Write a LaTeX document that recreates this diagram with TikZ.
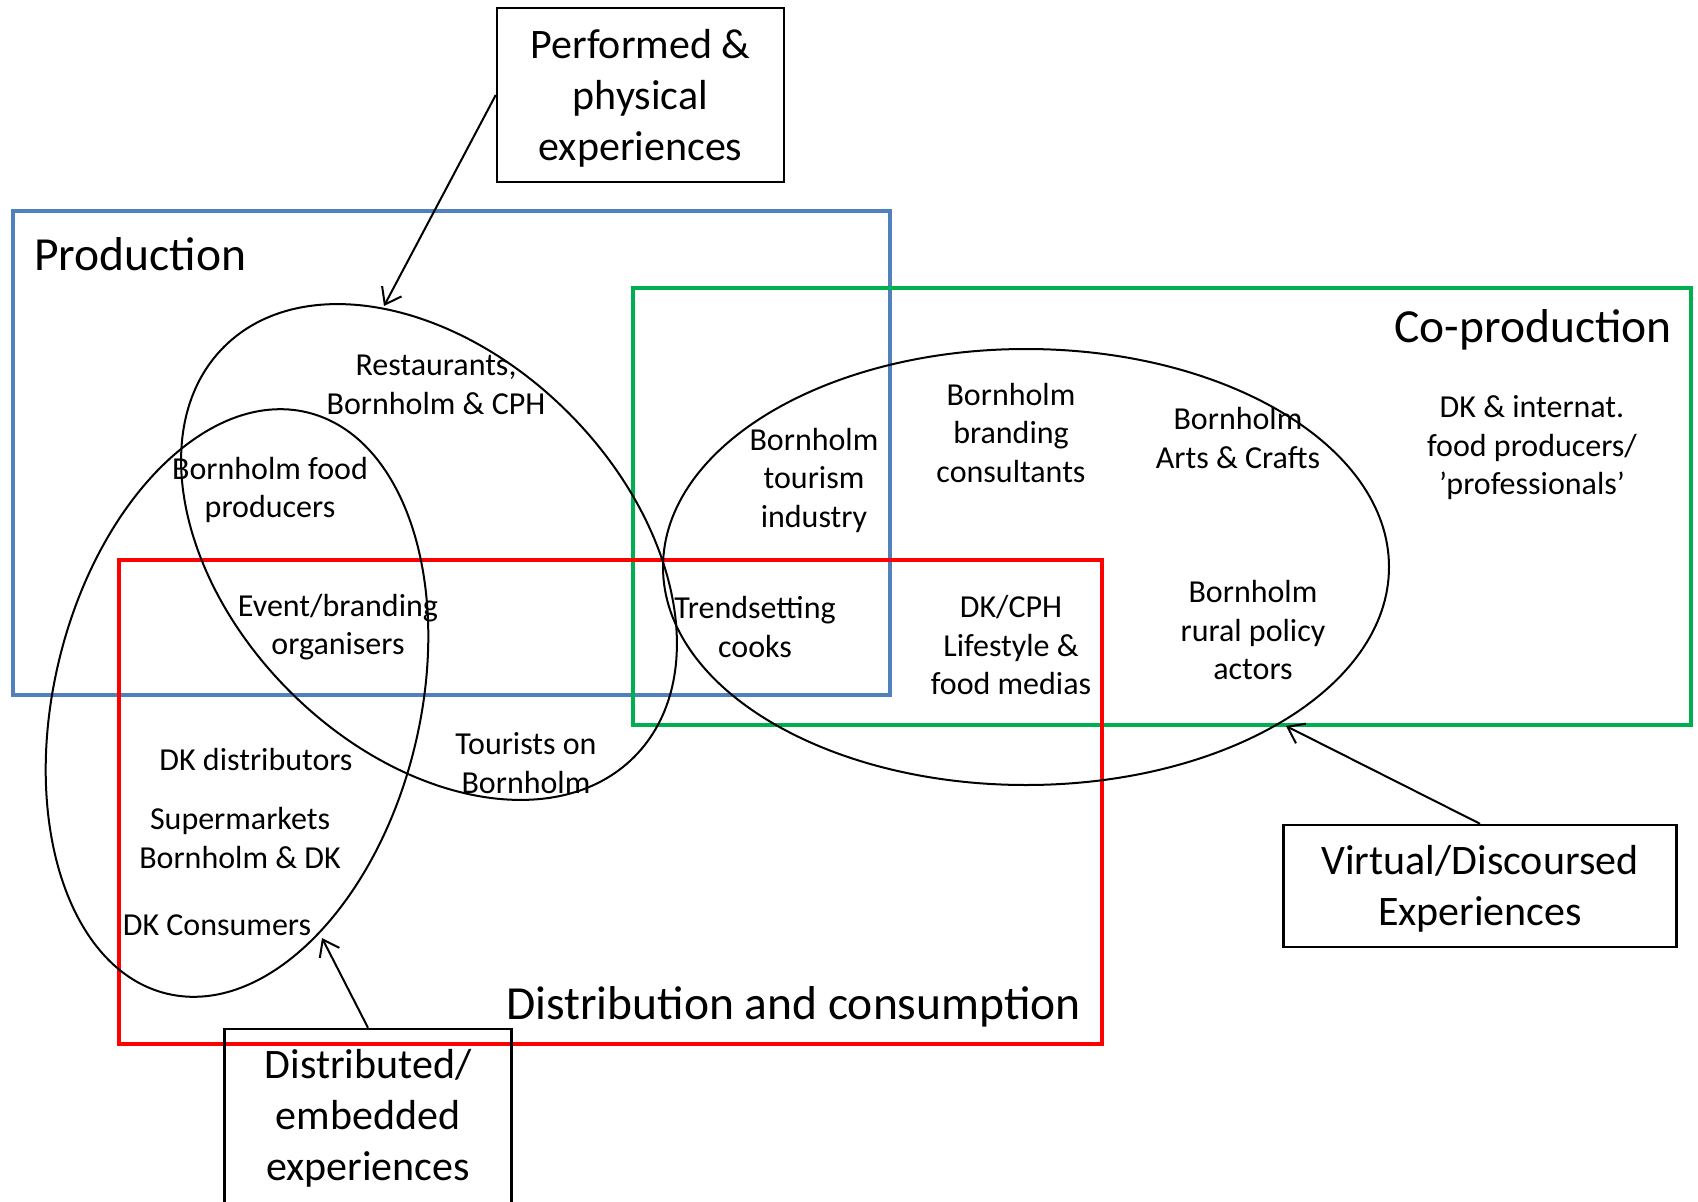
\documentclass[tikz,border=0pt]{standalone}
\usepackage{fontspec}
\setmainfont{Carlito}
\usetikzlibrary{arrows.meta}
\definecolor{pblue}{HTML}{4F81BD}
\definecolor{pgreen}{HTML}{00B050}
\definecolor{pred}{HTML}{FF0000}
\begin{document}
\begin{tikzpicture}[x=1pt,y=-1pt,
  region/.style={line width=4.5pt},
  oval/.style={line width=2pt},
  lbl/.style={font=\fontsize{32}{38.5}\selectfont, align=center, inner sep=0pt, yshift=-2pt},
  title/.style={font=\fontsize{47.5}{57}\selectfont, inner sep=0pt, yshift=-3pt},
  expbox/.style={draw, line width=2.5pt, inner sep=0pt},
  exptext/.style={font=\fontsize{42}{51}\selectfont, align=center, inner sep=0pt},
  arr/.style={-{Straight Barb[length=15pt,width=22pt]}, line width=2pt}]
\useasboundingbox (0,0) rectangle (1698,1202);
\fill[white] (0,0) rectangle (1698,1202);
\clip (0,0) rectangle (1698,1202);
% regions
\draw[region, pblue] (13,211) rectangle (890,695);
\draw[region, pgreen] (633,288) rectangle (1691,725);
\draw[region, pred] (119,560) rectangle (1102,1044);
% ovals
\draw[oval, rotate around={-45:(429,552)}] (429,552) ellipse [x radius=290pt, y radius=197pt];
\draw[oval, rotate around={76.4:(237,703)}] (237,703) ellipse [x radius=299pt, y radius=183pt];
\draw[oval] (1026,567) ellipse [x radius=363pt, y radius=218pt];
% titles
\node[title, anchor=west] (tprod) at (34,251) {Production};
\node[title, anchor=east] (tcoprod) at (1672,327) {Co-production};
\node[title, anchor=east] (tdist) at (1081,1004) {Distribution and consumption};
% labels
\node[lbl] (rest) at (436,383) {Restaurants,\\Bornholm \& CPH};
\node[lbl] (bfood) at (270,488) {Bornholm food\\producers};
\node[lbl] (event) at (338,625) {Event/branding\\organisers};
\node[lbl] (dkdist) at (256,757) {DK distributors};
\node[lbl] (tour) at (526,761) {Tourists on\\Bornholm};
\node[lbl] (super) at (240,836) {Supermarkets\\Bornholm \& DK};
\node[lbl] (dkcons) at (217,923) {DK Consumers};
\node[lbl] (btour) at (814,478) {Bornholm\\tourism\\industry};
\node[lbl] (bbrand) at (1011,431) {Bornholm\\branding\\consultants};
\node[lbl] (barts) at (1238,436) {Bornholm\\Arts \& Crafts};
\node[lbl] (dkint) at (1532,446) {DK \& internat.\\food producers/\\’professionals’};
\node[lbl] (trend) at (755,625) {Trendsetting\\cooks};
\node[lbl] (media) at (1011,643) {DK/CPH\\Lifestyle \&\\food medias};
\node[lbl] (rural) at (1253,628) {Bornholm\\rural policy\\actors};
% experience boxes
\node[expbox, minimum width=287pt, minimum height=174pt] (perf) at (640.5,95) {};
\node[exptext] (perftxt) at ([yshift=-3pt]perf.center) {Performed \&\\physical\\experiences};
\node[expbox, minimum width=393pt, minimum height=122pt] (virt) at (1480,886) {};
\node[exptext] (virttxt) at ([yshift=-2.5pt]virt.center) {Virtual/Discoursed\\Experiences};
\node[expbox, minimum width=287pt, minimum height=178pt] (distr) at (368,1118) {};
\node[exptext] (distrtxt) at (368,1118.5) {Distributed/\\embedded\\experiences};
% arrow targets on the ovals
\coordinate (tipA) at (384,306);
\coordinate (tipB) at (1286,726);
\coordinate (tipC) at (322,938);
\draw[arr] (perf.west) -- (tipA);
\draw[arr] (virt.north) -- (tipB);
\draw[arr] (distr.north) -- (tipC);
\end{tikzpicture}
\end{document}
